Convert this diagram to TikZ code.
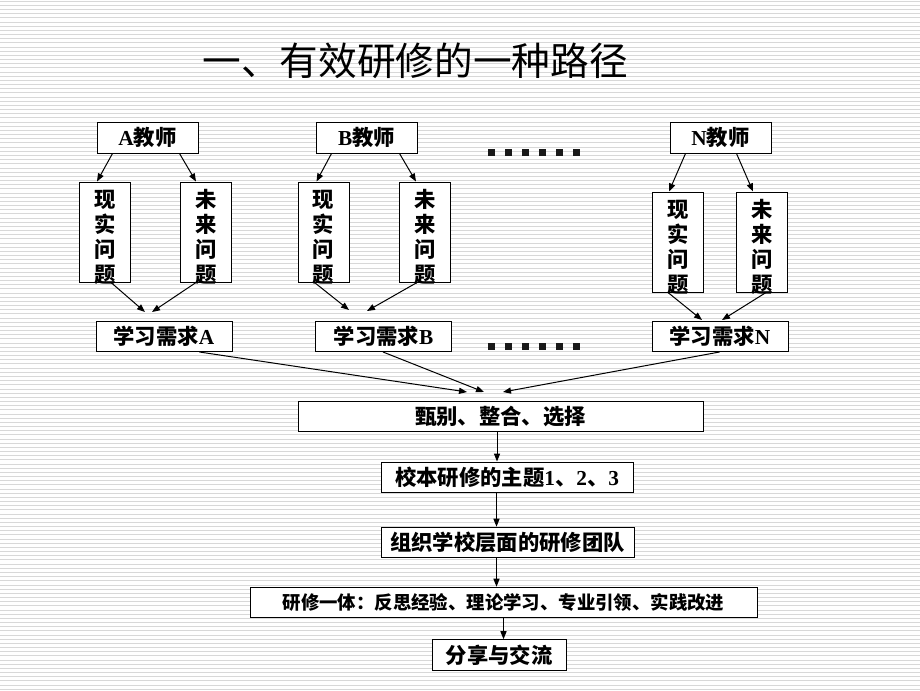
\documentclass[tikz,border=0pt]{standalone}
\usepackage{fontspec}
\setmainfont{Noto Sans CJK SC}
\newfontfamily\latf{Liberation Serif}
\usetikzlibrary{arrows.meta,calc}
\definecolor{stripe}{RGB}{216,216,216}
\tikzset{
  stripeline/.style={draw=stripe,line width=0.75pt},
  boxnode/.style={draw=black,fill=white,line width=0.75pt,inner sep=0pt,
    font=\bfseries\fontsize{16pt}{18.75pt}\selectfont},
  tbox/.style={boxnode,minimum width=75.75pt,minimum height=23.25pt},
  vbox/.style={boxnode,minimum width=38.25pt,minimum height=75pt},
  vtext/.style={inner sep=0pt,align=center,font=\bfseries\fontsize{16pt}{18.75pt}\selectfont},
  qbox/.style={boxnode,minimum width=102pt,minimum height=22.5pt},
  fbox/.style={boxnode,minimum height=23pt},
  arr/.style={draw=black,line width=0.75pt,-{Triangle[length=6pt,width=4.6pt]}},
  dotsq/.style={fill=black!90}
}
\begin{document}
\begin{tikzpicture}[x=0.75pt,y=-0.75pt]
\useasboundingbox (0,0) rectangle (920,690);
\fill[white] (0,0) rectangle (920,690);
\foreach \i in {0,...,165} {
  \draw[stripeline] (0,{1.2+4.17*\i}) -- (920,{1.2+4.17*\i});
}
% title
\node[inner sep=0pt,font=\fontsize{29pt}{34pt}\selectfont] (title) at (415,61) {一、有效研修的一种路径};

% teachers
\node[tbox] (tA) at (147.5,137.5) {{\latf A}教师};
\node[tbox] (tB) at (366.5,137.5) {{\latf B}教师};
\node[tbox] (tN) at (720.5,137.5) {{\latf N}教师};

% vertical boxes
\node[vbox] (xA) at (105,232) {};
\node[vbox] (yA) at (206,232) {};
\node[vbox] (xB) at (323.5,232) {};
\node[vbox] (yB) at (425,232) {};
\node[vbox] (xN) at (678,242) {};
\node[vbox] (yN) at (762,242) {};
\node[vtext] (xAt) at (105,237) {现\\实\\问\\题};
\node[vtext] (yAt) at (206,237) {未\\来\\问\\题};
\node[vtext] (xBt) at (323.5,237) {现\\实\\问\\题};
\node[vtext] (yBt) at (425,237) {未\\来\\问\\题};
\node[vtext] (xNt) at (678,247) {现\\实\\问\\题};
\node[vtext] (yNt) at (762,247) {未\\来\\问\\题};

% needs boxes
\node[qbox] (qA) at (164,336.5) {学习需求{\latf A}};
\node[qbox] (qB) at (383.5,336.5) {学习需求{\latf B}};
\node[qbox] (qN) at (720,336.5) {学习需求{\latf N}};

% flow boxes
\node[fbox,minimum width=303.75pt,minimum height=22.5pt] (zb) at (500.5,416) {甄别、整合、选择};
\node[fbox,minimum width=189pt,minimum height=22.5pt] (xb) at (507,477) {校本研修的主题{\latf 1}、{\latf 2}、{\latf 3}};
\node[fbox,minimum width=189.75pt] (zz) at (507.5,542.5) {组织学校层面的研修团队};
\node[fbox,minimum width=380.25pt,font=\bfseries\fontsize{13.8pt}{16pt}\selectfont] (yx) at (503.5,602.5) {研修一体：反思经验、理论学习、专业引领、实践改进};
\node[fbox,minimum width=100.5pt] (fx) at (499,655) {分享与交流};

% dots
\foreach \k in {0,...,5} {
  \fill[dotsq] ({488+17*\k},148.5) rectangle ++(7,7);
  \fill[dotsq] ({488+17*\k},342.5) rectangle ++(7,7);
}

% teacher -> problem arrows
\draw[arr] ($(tA.south west)+(16,0)$) -- ($(xA.north west)+(18,0)$);
\draw[arr] ($(tA.south west)+(83,0)$) -- ($(yA.north west)+(16,0)$);
\draw[arr] ($(tB.south west)+(16,0)$) -- ($(xB.north west)+(19,0)$);
\draw[arr] ($(tB.south west)+(84,0)$) -- ($(yB.north west)+(17,0)$);
\draw[arr] ($(tN.south west)+(16,0)$) -- ($(xN.north west)+(17,0)$);
\draw[arr] ($(tN.south west)+(67,0)$) -- ($(yN.north west)+(17,0)$);

% problem -> needs (free tips)
\coordinate (pA1) at (145,312);
\coordinate (pA2) at (152,312);
\coordinate (pB1) at (349,310);
\coordinate (pB2) at (367,311);
\coordinate (pN1) at (702,320);
\coordinate (pN2) at (722,320);
\draw[arr] ($(xA.south west)+(32,0)$) -- (pA1);
\draw[arr] ($(yA.south west)+(16,0)$) -- (pA2);
\draw[arr] ($(xB.south west)+(17,0)$) -- (pB1);
\draw[arr] ($(yB.south west)+(18,0)$) -- (pB2);
\draw[arr] ($(xN.south west)+(16,0)$) -- (pN1);
\draw[arr] ($(yN.south west)+(30,0)$) -- (pN2);

% needs -> selection
\coordinate (s1) at (467,392);
\coordinate (s2) at (484,392);
\coordinate (s3) at (503,392);
\draw[arr] ($(qA.south west)+(104,0)$) -- (s1);
\draw[arr] ($(qB.south west)+(68,0)$) -- (s2);
\draw[arr] ($(qN.south west)+(68,0)$) -- (s3);

% flow arrows
\draw[arr] (zb.south -| 497,0) -- (xb.north -| 497,0);
\draw[arr] (xb.south -| 496.5,0) -- (zz.north -| 496.5,0);
\draw[arr] (zz.south -| 496.5,0) -- (yx.north -| 496.5,0);
\draw[arr] (yx.south -| 503.5,0) -- (fx.north -| 503.5,0);
\end{tikzpicture}
\end{document}
